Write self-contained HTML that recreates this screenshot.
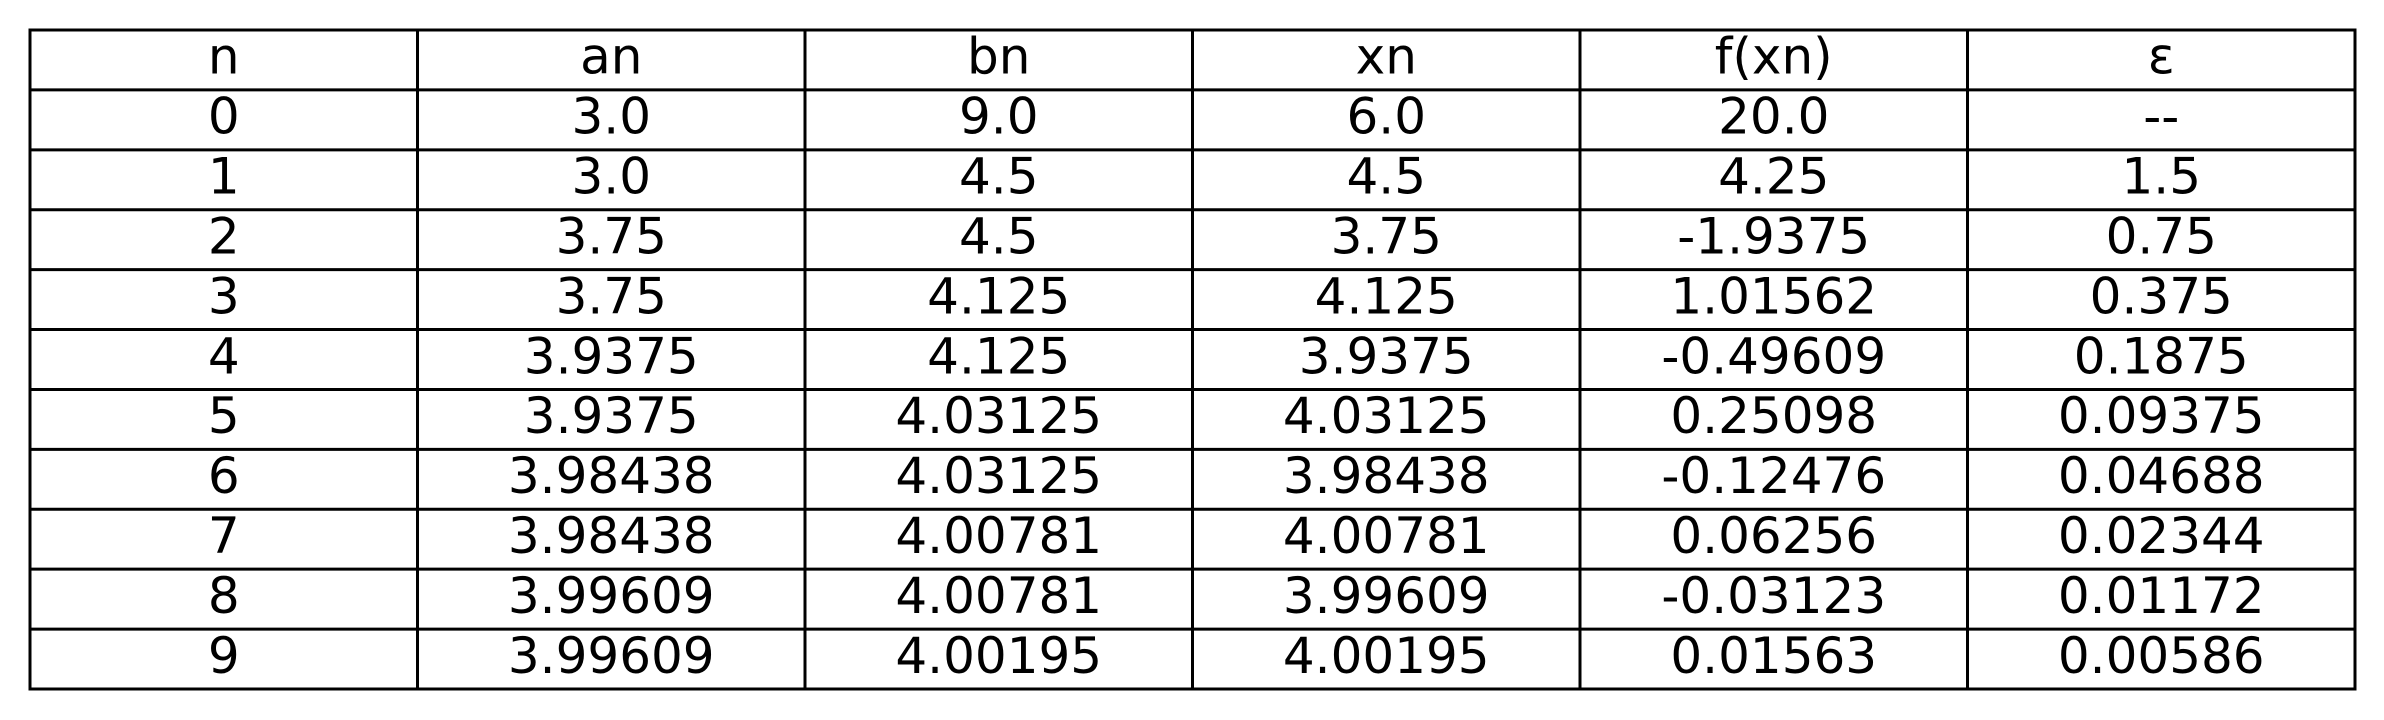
<!DOCTYPE html>
<html><head><meta charset="utf-8"><style>body{margin:0;background:#fff}svg{display:block}</style></head>
<body>
<svg id="tbl" width="2384" height="720" xmlns="http://www.w3.org/2000/svg"></svg>
<script>
const headers = ["n","an","bn","xn","f(xn)","ε"];
const colN = ["0","1","2","3","4","5","6","7","8","9"];
const colA = ["3.0","3.0","3.75","3.75","3.9375","3.9375","3.98438","3.98438","3.99609","3.99609"];
const colB = ["9.0","4.5","4.5","4.125","4.125","4.03125","4.03125","4.00781","4.00781","4.00195"];
const colX = ["6.0","4.5","3.75","4.125","3.9375","4.03125","3.98438","4.00781","3.99609","4.00195"];
const colF = ["20.0","4.25","-1.9375","1.01562","-0.49609","0.25098","-0.12476","0.06256","-0.03123","0.01563"];
const colE = ["--","1.5","0.75","0.375","0.1875","0.09375","0.04688","0.02344","0.01172","0.00586"];
const svg = document.getElementById('tbl');
const NS = "http://www.w3.org/2000/svg";
const L = 30, T = 30, R = 2355, B = 689;
const cols = [colN, colA, colB, colX, colF, colE];
const nRows = colN.length + 1;
const cw = (R - L) / headers.length, rh = (B - T) / nRows;
function line(x1,y1,x2,y2,name){
  const l = document.createElementNS(NS,'line');
  l.setAttribute('x1',x1);l.setAttribute('y1',y1);l.setAttribute('x2',x2);l.setAttribute('y2',y2);
  l.setAttribute('stroke','#000');l.setAttribute('stroke-width','3');
  
  
  svg.appendChild(l);
}
function text(x,y,s,name){
  const t = document.createElementNS(NS,'text');
  t.setAttribute('x',x);t.setAttribute('y',y);t.setAttribute('text-anchor','middle');
  t.setAttribute('font-family','DejaVu Sans, Liberation Sans, sans-serif');
  t.setAttribute('font-size','50');t.setAttribute('fill','#000');
  t.textContent = s;
  
  
  svg.appendChild(t);
}
for (let r = 0; r <= nRows; r++) line(L-1.5, T + r*rh, R+1.5, T + r*rh, 'row-border');
for (let c = 0; c <= headers.length; c++) line(L + c*cw, T, L + c*cw, B, 'column-border');
headers.forEach((h,c)=> text(L + (c+0.5)*cw, T + 0.73*rh, h, 'header-cell'));
cols.forEach((col,c)=> col.forEach((v,r)=> text(L + (c+0.5)*cw, T + (r+1)*rh + 0.73*rh, v, 'table-cell')));
</script>
</body></html>
